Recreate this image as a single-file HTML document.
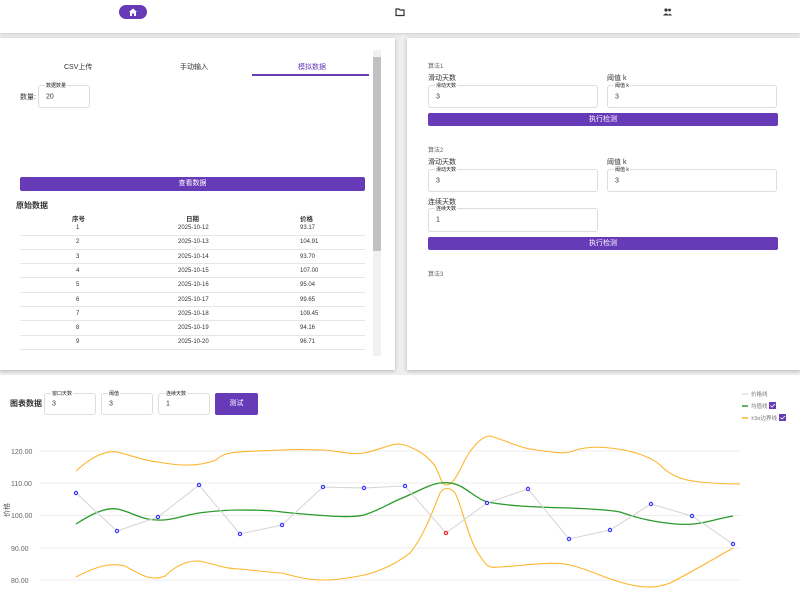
<!DOCTYPE html>
<html><head><meta charset="utf-8"><style>
*{box-sizing:border-box;margin:0;padding:0}
body{width:800px;height:593px;overflow:hidden;background:#fff;font-family:"Liberation Sans","Noto Sans CJK SC",sans-serif;color:#333;position:relative}
.abs{position:absolute}
.panel{position:absolute;background:#fff;box-shadow:0 1px 4px rgba(0,0,0,.25)}
.inp{position:absolute;border:1px solid #ddd;border-radius:3px;background:#fff;font-size:8px;color:#333}
.inp .lb{position:absolute;top:-3px;left:6px;font-size:5px;background:#fff;padding:0 1px;line-height:6px;color:#222}
.inp .v{position:absolute;left:7px;top:50%;transform:translateY(-50%);font-size:7px}
.btn{position:absolute;background:#673ab7;color:#fff;font-size:7px;text-align:center;border-radius:2px}
.t{position:absolute;font-size:7px;white-space:nowrap}
</style></head><body>
<div class="abs" style="left:0;top:33px;width:800px;height:342px;background:#efefef"></div>
<div class="abs" style="left:0;top:0;width:800px;height:33px;background:#fff;box-shadow:0 1px 3px rgba(0,0,0,.15)"></div>
<div class="abs" style="left:119px;top:5px;width:28px;height:14px;border-radius:7px;background:#673ab7"></div>
<svg class="abs" style="left:128px;top:7px" width="10" height="10" viewBox="0 0 10 10"><path d="M1 5L5 1.5L9 5H8V9H6V6.5H4V9H2V5Z" fill="#fff"/></svg>
<svg class="abs" style="left:395px;top:7px" width="10" height="10" viewBox="0 0 10 10"><path d="M1 2H4L5 3H9V8.5H1Z" fill="none" stroke="#333" stroke-width="1.2"/></svg>
<svg class="abs" style="left:662px;top:7px" width="11" height="10" viewBox="0 0 11 10"><circle cx="4" cy="3" r="1.6" fill="#333"/><circle cx="7.5" cy="3" r="1.4" fill="#333"/><path d="M1 8.5Q4 4.5 7 8.5ZM6 8.5Q8 5 10 8.5Z" fill="#333"/></svg>

<div class="panel" style="left:0;top:38px;width:395px;height:332px">
<div class="t" style="left:64px;top:24px;font-size:7px">CSV上传</div>
<div class="t" style="left:180px;top:24px">手动输入</div>
<div class="t" style="left:298px;top:24px;color:#673ab7">模拟数据</div>
<div class="abs" style="left:252px;top:36px;width:117px;height:1.5px;background:#673ab7"></div>
<div class="t" style="left:20px;top:54px">数量:</div>
<div class="inp" style="left:38px;top:47px;width:52px;height:23px"><span class="lb">数据数量</span><span class="v">20</span></div>
<div class="btn" style="left:20px;top:139px;width:345px;height:14px;line-height:14px">查看数据</div>
<div class="t" style="left:16px;top:162px;font-size:8px;font-weight:bold">原始数据</div>
<div class="t" style="left:72px;top:175px;font-size:6.5px;font-weight:bold">序号</div>
<div class="t" style="left:186px;top:175px;font-size:6.5px;font-weight:bold">日期</div>
<div class="t" style="left:300px;top:175px;font-size:6.5px;font-weight:bold">价格</div>
<div class="abs" style="left:373px;top:12px;width:8px;height:306px;background:#f1f1f1"></div>
<div class="abs" style="left:373px;top:19px;width:8px;height:194px;background:#c1c1c1"></div>
<div id="rows"></div>
</div>

<div class="panel" style="left:407px;top:38px;width:393px;height:332px">
<div class="t" style="left:21px;top:23px;font-size:6px;color:#666">算法1</div>
<div class="t" style="left:21px;top:35px">滑动天数</div>
<div class="t" style="left:200px;top:35px">阈值 k</div>
<div class="inp" style="left:21px;top:47px;width:170px;height:23px"><span class="lb">滑动天数</span><span class="v">3</span></div>
<div class="inp" style="left:200px;top:47px;width:170px;height:23px"><span class="lb">阈值 k</span><span class="v">3</span></div>
<div class="btn" style="left:21px;top:75px;width:350px;height:13px;line-height:13px">执行检测</div>
<div class="t" style="left:21px;top:107px;font-size:6px;color:#666">算法2</div>
<div class="t" style="left:21px;top:119px">滑动天数</div>
<div class="t" style="left:200px;top:119px">阈值 k</div>
<div class="inp" style="left:21px;top:131px;width:170px;height:23px"><span class="lb">滑动天数</span><span class="v">3</span></div>
<div class="inp" style="left:200px;top:131px;width:170px;height:23px"><span class="lb">阈值 k</span><span class="v">3</span></div>
<div class="t" style="left:21px;top:159px">连续天数</div>
<div class="inp" style="left:21px;top:170px;width:170px;height:24px"><span class="lb">连续天数</span><span class="v">1</span></div>
<div class="btn" style="left:21px;top:199px;width:350px;height:13px;line-height:13px">执行检测</div>
<div class="t" style="left:21px;top:231px;font-size:6px;color:#666">算法3</div>
</div>

<div class="t" style="left:10px;top:398px;font-size:8px;font-weight:bold">图表数据</div>
<div class="inp" style="left:44px;top:393px;width:52px;height:22px"><span class="lb">窗口天数</span><span class="v">3</span></div>
<div class="inp" style="left:101px;top:393px;width:52px;height:22px"><span class="lb">阈值</span><span class="v">3</span></div>
<div class="inp" style="left:158px;top:393px;width:52px;height:22px"><span class="lb">连续天数</span><span class="v">1</span></div>
<div class="btn" style="left:215px;top:393px;width:43px;height:22px;line-height:22px">测试</div>

<svg class="abs" style="left:0;top:0" width="800" height="593">
<g stroke="#eee" stroke-width="1">
<line x1="40" x2="740" y1="451" y2="451"/><line x1="40" x2="740" y1="483" y2="483"/><line x1="40" x2="740" y1="515.5" y2="515.5"/><line x1="40" x2="740" y1="548" y2="548"/><line x1="40" x2="740" y1="580" y2="580"/>
</g>
<g font-size="7" fill="#666" font-family="Liberation Sans">
<text x="11" y="454">120.00</text><text x="11" y="486">110.00</text><text x="11" y="518">100.00</text><text x="11" y="551">90.00</text><text x="11" y="583">80.00</text>
</g>
<text x="0" y="0" font-size="7" fill="#555" transform="translate(9 510) rotate(-90)" text-anchor="middle" font-family="Liberation Sans,Noto Sans CJK SC">价格</text>
<g fill="none" stroke="#ffb52e" stroke-width="1.1">
<path d="M76 471C90 458 105 450 117 452C130 455 145 461 158 462C175 465 195 468 216 460C225 451 235 452 282 450C300 449 320 450 323 450C340 451 350 455 364 453C380 450 392 443 400 444C415 447 428 456 435 466C441 478 442 485 446 485C452 485 456 478 462 466C470 448 482 436 490 436C505 440 518 447 530 449C550 452 563 454 570 452C585 446 600 447 610 448C630 450 650 456 660 465C670 475 680 480 700 482C720 484 730 484 740 484"/>
<path d="M76 577C95 567 110 562 125 566C140 574 150 582 165 576C180 562 190 561 199 561C215 564 225 569 240 569C260 571 275 573 282 573C300 578 315 582 340 579C355 577 368 575 380 570C395 564 400 560 410 553C425 535 435 505 440 493C444 487 450 487 455 493C462 505 468 540 480 556C487 568 490 568 500 567C530 565 555 561 570 565C590 570 605 578 620 582C640 588 655 589 670 583C690 573 710 561 733 548"/>
</g>
<path d="M76 524C90 515 105 507 117 509C130 511 140 520 158 520C170 521 185 515 199 513C215 511 228 510 240 510C260 510 275 511 282 512C300 514 315 515 330 516C345 517 355 517 364 515C380 510 390 503 400 499C415 493 430 484 440 483C448 482 455 483 462 487C472 493 478 499 487 502C510 506 530 507 569 508C595 509 610 510 620 512C640 519 655 522 675 524C700 526 710 520 733 516" fill="none" stroke="#2a9a2a" stroke-width="1.3"/>
<polyline fill="none" stroke="#d4d4d4" stroke-width="1" points="76,493 117,531 158,517 199,485 240,534 282,525 323,487 364,488 405,486 446,533 487,503 528,489 569,539 610,530 651,504 692,516 733,544"/>
<g fill="#fff" stroke="#3333ff" stroke-width="1.2">
<circle cx="76" cy="493" r="1.6"/><circle cx="117" cy="531" r="1.6"/><circle cx="158" cy="517" r="1.6"/><circle cx="199" cy="485" r="1.6"/><circle cx="240" cy="534" r="1.6"/><circle cx="282" cy="525" r="1.6"/><circle cx="323" cy="487" r="1.6"/><circle cx="364" cy="488" r="1.6"/><circle cx="405" cy="486" r="1.6"/><circle cx="487" cy="503" r="1.6"/><circle cx="528" cy="489" r="1.6"/><circle cx="569" cy="539" r="1.6"/><circle cx="610" cy="530" r="1.6"/><circle cx="651" cy="504" r="1.6"/><circle cx="692" cy="516" r="1.6"/><circle cx="733" cy="544" r="1.6"/>
<circle cx="446" cy="533" r="1.6" stroke="#ee2222"/>
</g>
<g font-size="5.5" fill="#777" font-family="Liberation Sans,Noto Sans CJK SC">
<line x1="742" x2="748" y1="394" y2="394" stroke="#d4d4d4" stroke-width="1.2"/><text x="751" y="396">价格线</text>
<line x1="742" x2="748" y1="406" y2="406" stroke="#2a9a2a" stroke-width="1.5"/><text x="751" y="408">均值线</text>
<rect x="769" y="402" width="7" height="7" fill="#673ab7"/><path d="M770.5 405.5l1.5 1.5 3-3" stroke="#fff" fill="none" stroke-width="0.8"/>
<line x1="742" x2="748" y1="418" y2="418" stroke="#ffb52e" stroke-width="1.5"/><text x="751" y="420">±3σ边界线</text>
<rect x="779" y="414" width="7" height="7" fill="#673ab7"/><path d="M780.5 417.5l1.5 1.5 3-3" stroke="#fff" fill="none" stroke-width="0.8"/>
</g>
</svg>
<script>
var d=[["1","2025-10-12","93.17"],["2","2025-10-13","104.91"],["3","2025-10-14","93.70"],["4","2025-10-15","107.00"],["5","2025-10-16","95.04"],["6","2025-10-17","99.65"],["7","2025-10-18","109.45"],["8","2025-10-19","94.16"],["9","2025-10-20","96.71"]];
var h="";d.forEach(function(r,i){var y=187+i*14.3;
h+='<div class="t" style="left:76px;top:'+y+'px;font-size:6px">'+r[0]+'</div><div class="t" style="left:178px;top:'+y+'px;font-size:6px">'+r[1]+'</div><div class="t" style="left:300px;top:'+y+'px;font-size:6px">'+r[2]+'</div><div class="abs" style="left:20px;top:'+(y+9.5)+'px;width:345px;height:1px;background:#e6e6e6"></div>';});
document.getElementById("rows").innerHTML=h;
</script>
</body></html>
